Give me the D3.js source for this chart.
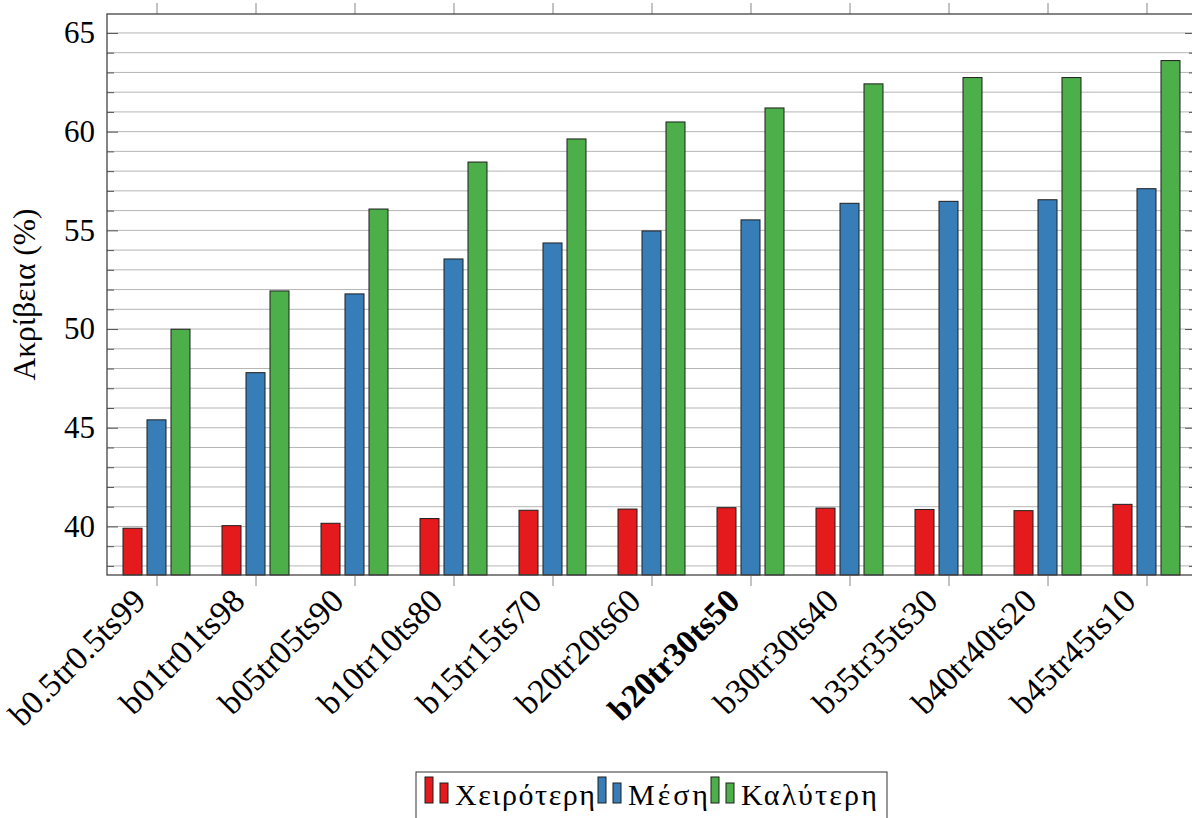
<!DOCTYPE html>
<html>
<head>
<meta charset="utf-8">
<script src="https://cdn.jsdelivr.net/npm/d3@7"></script>
<style>
  body { margin: 0; background: #fff; }
  svg { display: block; }
  text { font-family: "Liberation Serif", "Times New Roman", serif; fill: #000; }
</style>
</head>
<body>
<svg id="chart" width="1192" height="818"></svg>
<script>
// Accuracy (%) per split configuration: worst / mean / best run
const categories = [
  "b0.5tr0.5ts99", "b01tr01ts98", "b05tr05ts90", "b10tr10ts80", "b15tr15ts70",
  "b20tr20ts60", "b20tr30ts50", "b30tr30ts40", "b35tr35ts30", "b40tr40ts20", "b45tr45ts10"
];
const highlighted = "b20tr30ts50";
const seriesNames = ["Χειρότερη", "Μέση", "Καλύτερη"];
const worst = [39.91, 40.04, 40.16, 40.40, 40.82, 40.88, 40.95, 40.93, 40.86, 40.80, 41.12];
const mean  = [45.40, 47.79, 51.78, 53.55, 54.36, 54.97, 55.53, 56.37, 56.47, 56.55, 57.11];
const best  = [49.99, 51.93, 56.08, 58.46, 59.63, 60.49, 61.20, 62.42, 62.74, 62.74, 63.60];
const yTicks = [40, 45, 50, 55, 60, 65];
const yLabel = "Ακρίβεια (%)";
const colors = ["#e41a1c", "#377eb8", "#4daf4a"];

const seriesValues = [worst, mean, best];

const svg = d3.select("#chart");
const W = 1192, H = 818;
svg.append("rect").attr("width", W).attr("height", H).attr("fill", "#fff");

const plot = { left: 107, right: 1196, top: 14, bottom: 575 };

const y = d3.scaleLinear().domain([37.54, 65.96]).range([plot.bottom, plot.top]);
const x = d3.scalePoint().domain(categories).range([plot.left, plot.right]).padding(0.5);
const xs = d3.scaleBand().domain(seriesNames).range([-33.5, 33.5]).paddingInner(0.208);

// horizontal grid at every unit
const gridVals = d3.range(Math.ceil(y.domain()[0]), Math.floor(y.domain()[1]) + 1);
svg.append("g")
  .selectAll("line")
  .data(gridVals)
  .join("line")
  .attr("x1", plot.left).attr("x2", plot.right)
  .attr("y1", d => y(d)).attr("y2", d => y(d))
  .attr("stroke", "#b5b5b5").attr("stroke-width", 1);

// bars
const groups = svg.append("g")
  .selectAll("g")
  .data(categories)
  .join("g")
  .attr("transform", d => `translate(${x(d)},0)`);

groups.selectAll("rect")
  .data((c, i) => seriesNames.map((s, k) => ({ s, k, v: seriesValues[k][i] })))
  .join("rect")
  .attr("x", d => xs(d.s))
  .attr("width", xs.bandwidth())
  .attr("y", d => y(d.v))
  .attr("height", d => plot.bottom - y(d.v))
  .attr("fill", d => colors[d.k])
  .attr("stroke", "#1e1e1e")
  .attr("stroke-width", 1);

// left axis: minor and major ticks pointing inward, labels outside
const minorTicks = gridVals.filter(v => !yTicks.includes(v));
svg.append("g")
  .attr("transform", `translate(${plot.left},0)`)
  .call(d3.axisLeft(y).tickValues(minorTicks).tickSizeInner(-7).tickSizeOuter(0).tickFormat(""))
  .call(g => g.select(".domain").remove())
  .call(g => g.selectAll("line").attr("stroke", "#555"));

svg.append("g")
  .attr("transform", `translate(${plot.left},0)`)
  .call(d3.axisLeft(y).tickValues(yTicks).tickSizeInner(-11).tickSizeOuter(0).tickPadding(12))
  .call(g => g.select(".domain").remove())
  .call(g => g.selectAll("line").attr("stroke", "#555"))
  .call(g => g.selectAll("text")
    .attr("font-family", "'Liberation Serif', serif")
    .attr("font-size", 31)
    .attr("fill", "#000"));

// right axis ticks (inward)
svg.append("g")
  .attr("transform", `translate(${plot.right},0)`)
  .call(d3.axisRight(y).tickValues(minorTicks).tickSizeInner(-7).tickSizeOuter(0).tickFormat(""))
  .call(g => g.select(".domain").remove())
  .call(g => g.selectAll("line").attr("stroke", "#555"));
svg.append("g")
  .attr("transform", `translate(${plot.right},0)`)
  .call(d3.axisRight(y).tickValues(yTicks).tickSizeInner(-11).tickSizeOuter(0).tickFormat(""))
  .call(g => g.select(".domain").remove())
  .call(g => g.selectAll("line").attr("stroke", "#555"));

// top and bottom category ticks (outward)
svg.append("g")
  .attr("transform", `translate(0,${plot.top})`)
  .call(d3.axisTop(x).tickSizeInner(11).tickSizeOuter(0).tickFormat(""))
  .call(g => g.select(".domain").remove())
  .call(g => g.selectAll("line").attr("stroke", "#888"));
svg.append("g")
  .attr("transform", `translate(0,${plot.bottom})`)
  .call(d3.axisBottom(x).tickSizeInner(11).tickSizeOuter(0).tickFormat(""))
  .call(g => g.select(".domain").remove())
  .call(g => g.selectAll("line").attr("stroke", "#888"));

// frame
svg.append("rect")
  .attr("x", plot.left).attr("y", plot.top)
  .attr("width", plot.right - plot.left).attr("height", plot.bottom - plot.top)
  .attr("fill", "none").attr("stroke", "#444").attr("stroke-width", 1.3);

// rotated category labels
svg.append("g")
  .selectAll("text")
  .data(categories)
  .join("text")
  .attr("transform", d => `translate(${x(d) - 9},${plot.bottom + 28}) rotate(-45)`)
  .attr("text-anchor", "end")
  .attr("font-size", 33.5)
  .attr("font-weight", d => d === highlighted ? "bold" : "normal")
  .text(d => d);

// y axis title
svg.append("text")
  .attr("transform", `translate(35,${(plot.top + plot.bottom) / 2}) rotate(-90)`)
  .attr("text-anchor", "middle")
  .attr("font-size", 31.5)
  .text(yLabel);

// legend: two-bar swatch + label per series, framed and centred under the plot
const legendBox = svg.append("rect");
const legend = svg.append("g");
const legendFont = 30;
const legendTextW = [140, 80, 136];
const baseY = 805;
let cursor = 0;
seriesNames.forEach((name, k) => {
  const g = legend.append("g");
  g.append("rect").attr("x", cursor).attr("y", baseY - 28).attr("width", 8).attr("height", 26)
    .attr("fill", colors[k]).attr("stroke", "#1e1e1e").attr("stroke-width", 1);
  g.append("rect").attr("x", cursor + 15).attr("y", baseY - 22).attr("width", 8).attr("height", 20)
    .attr("fill", colors[k]).attr("stroke", "#1e1e1e").attr("stroke-width", 1);
  g.append("text").attr("x", cursor + 30).attr("y", baseY)
    .attr("font-size", legendFont)
    .attr("textLength", legendTextW[k])
    .attr("lengthAdjust", "spacing")
    .text(name);
  cursor += 30 + legendTextW[k] + 3;
});
const legendW = cursor - 3;
const padL = 9, padR = 10;
const boxW = legendW + padL + padR;
const boxX = (plot.left + plot.right) / 2 - boxW / 2;
legend.attr("transform", `translate(${boxX + padL},0)`);
legendBox
  .attr("x", boxX).attr("y", 772)
  .attr("width", boxW).attr("height", 60)
  .attr("fill", "#fff").attr("stroke", "#333").attr("stroke-width", 1);
</script>
</body>
</html>
